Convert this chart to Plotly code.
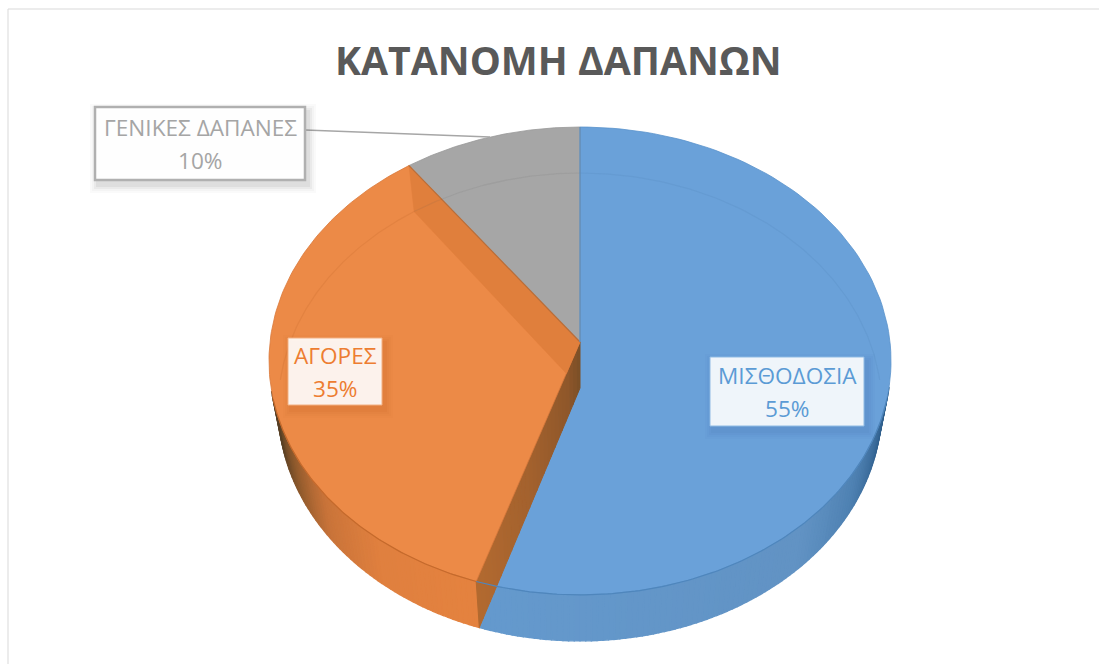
import math
import plotly.graph_objects as go

# ---- data -------------------------------------------------------------
title_text = "ΚΑΤΑΝΟΜΗ ΔΑΠΑΝΩΝ"
categories = ["ΜΙΣΘΟΔΟΣΙΑ", "ΑΓΟΡΕΣ", "ΓΕΝΙΚΕΣ ΔΑΠΑΝΕΣ"]
values = [55, 35, 10]
top_colors = ["#6aa1d9", "#ec8a47", "#a6a6a6"]
text_colors = ["#5b9bd5", "#ed7d31", "#a5a5a5"]

# ---- geometry of the tilted disc ---------------------------------------
W, H = 1099, 664
CX, CY = 580.0, 342.0
RX, SY, K = 310.0, 232.4, 0.081
DEPTH = 46.0


def pt(deg, level=0, radius=1.0):
    t = math.radians(deg)
    u, v = radius * math.sin(t), radius * math.cos(t)
    d = 1 + K * v
    sx = 1.0 - 0.03 * level
    return (CX + sx * RX * u / d, CY - SY * v / d + DEPTH * level)


def arc(a, b, level=0, n=120):
    return [pt(a + (b - a) * i / n, level) for i in range(n + 1)]


def hexrgb(c):
    return tuple(int(c[i:i + 2], 16) for i in (1, 3, 5))


def ramp(stops, x):
    for (x0, c0), (x1, c1) in zip(stops, stops[1:]):
        if x <= x1:
            f = max(0.0, (x - x0) / (x1 - x0))
            a, b = hexrgb(c0), hexrgb(c1)
            return "rgb(%d,%d,%d)" % tuple(a[i] + (b[i] - a[i]) * f for i in range(3))
    return stops[-1][1]


def mix(a, b, f):
    return (a[0] + (b[0] - a[0]) * f, a[1] + (b[1] - a[1]) * f)


fig = go.Figure()


def poly(points, fill, line=None, width=1.0, name=None):
    fig.add_trace(go.Scatter(
        x=[p[0] for p in points] + [points[0][0]],
        y=[p[1] for p in points] + [points[0][1]],
        mode="lines", fill="toself", fillcolor=fill,
        line=dict(color=line or fill, width=width),
        hoverinfo="skip" if name is None else "name", name=name or "",
        showlegend=False))


def path(points, color, width=1.0):
    fig.add_trace(go.Scatter(
        x=[p[0] for p in points], y=[p[1] for p in points], mode="lines",
        line=dict(color=color, width=width), hoverinfo="skip", showlegend=False))


# slice angles, clockwise from 12 o'clock, derived from the values
total = sum(values)
a_blue = 360.0 * values[0] / total
a_orange = a_blue + 360.0 * values[1] / total
a_gray = 360.0

blue_side = [(90, "#173f63"), (106, "#2f5f8d"), (122, "#4f82b3"), (138, "#6293c4"), (a_blue, "#659ace")]
orange_side = [(a_blue, "#e5833f"), (218, "#e0803f"), (232, "#c9743a"), (244, "#8f5a2d"), (254, "#5e4326"), (270, "#3f3422")]

# outer wall, in thin strips so that it shades along the rim
STEP = 1.0
deg = 101.0
while deg < 258.0:
    nxt = min(deg + STEP, 258.0)
    mid = (deg + nxt) / 2
    col = ramp(blue_side, mid) if mid < a_blue else ramp(orange_side, mid)
    poly([pt(deg), pt(nxt), pt(nxt, 1), pt(deg, 1)], col, width=1.4)
    deg = nxt

apex = (CX, CY)
apex_low = (CX, CY + DEPTH)

# top faces
poly([apex] + arc(0, a_blue), top_colors[0], line="#5b93cb", width=0.8, name=categories[0])

# cut wall between the orange and blue slices
N = 28
p0, p1 = pt(a_blue), pt(a_blue, 1)
wall = [(0, "#7a4f27"), (0.12, "#8f572a"), (0.5, "#a4622e"), (1, "#b36a30")]
for i in range(N):
    f0, f1 = i / N, (i + 1) / N
    poly([mix(apex, p0, f0), mix(apex, p0, f1), mix(apex_low, p1, f1), mix(apex_low, p1, f0)],
         ramp(wall, (f0 + f1) / 2), width=1.0)

poly([apex] + arc(a_blue, a_orange), top_colors[1], line="#d9793a", width=0.8, name=categories[1])
poly([apex] + arc(a_orange, a_gray), top_colors[2], line="#989898", width=0.8, name=categories[2])

# darker wall seen through the orange slice, clipped at the orange/blue edge
r0 = pt(a_orange, 0)
rl = pt(a_orange, 1)
d1 = (apex_low[0] - rl[0], apex_low[1] - rl[1])
d2 = (p0[0] - CX, p0[1] - CY)
den = d1[0] * d2[1] - d1[1] * d2[0]
t_hit = ((CX - rl[0]) * d2[1] - (CY - rl[1]) * d2[0]) / den
hit = (rl[0] + d1[0] * t_hit, rl[1] + d1[1] * t_hit)
poly([r0, rl, hit, apex], "#e07f3c", line="#e07f3c", width=0.5)
path([r0, apex], "#b96e3a", 1.2)

# faint back rim seen through the top face
path(arc(a_orange, 360, 1), "rgba(90,90,90,0.10)", 1.2)
path(arc(0, 88, 1), "rgba(40,80,130,0.07)", 1.2)
path(arc(272, a_orange, 1), "rgba(190,100,40,0.20)", 1.2)

# front rim
path(arc(a_blue, 104), "#4f86bc", 1.2)
path(arc(a_blue, 256), "#c56a2c", 1.2)

# separator at 12 o'clock
path([apex, pt(0)], "#5c8fc2", 1.2)

shapes = [
    dict(type="line", x0=8, y0=9, x1=W, y1=9, line=dict(color="#d9d9d9", width=1)),
    dict(type="line", x0=8, y0=9, x1=8, y1=H, line=dict(color="#d9d9d9", width=1)),
    dict(type="line", x0=305, y0=130, x1=490, y1=137, line=dict(color="#a6a6a6", width=1.6)),
]


def shadow(x0, y0, x1, y1, rgb):
    for grow, alpha in ((8, 0.03), (6, 0.04), (4, 0.06), (2, 0.08)):
        shapes.append(dict(type="rect", x0=x0 - grow + 3, y0=y0 - grow + 5, x1=x1 + grow + 3, y1=y1 + grow + 5,
                           line=dict(width=0), fillcolor="rgba(%d,%d,%d,%.2f)" % (*rgb, alpha)))


boxes = [(710, 357, 864, 426), (288, 338, 382, 405), (95, 107, 305, 180)]
box_fill = ["rgba(255,255,255,0.90)", "rgba(255,255,255,0.90)", "rgba(255,255,255,0.96)"]
box_line = ["#8fbbe4", "#f4b183", "#b0b0b0"]
box_width = [1, 1, 2.5]
box_shadow = [(60, 110, 170), (190, 90, 30), (90, 90, 90)]

annotations = [dict(text="<b>%s</b>" % title_text, x=558.5, y=59, xref="x", yref="y", showarrow=False,
                    font=dict(family="Open Sans", size=39.2, color="#595959"))]
for i, (x0, y0, x1, y1) in enumerate(boxes):
    shadow(x0, y0, x1, y1, box_shadow[i])
    shapes.append(dict(type="rect", x0=x0, y0=y0, x1=x1, y1=y1, fillcolor=box_fill[i],
                       line=dict(color=box_line[i], width=box_width[i])))
    ym = (y0 + y1) / 2
    lines = [categories[i], "%d%%" % round(100 * values[i] / total)]
    for line_text, dy in zip(lines, (-16.5, 16.5)):
        annotations.append(dict(
            text=line_text, x=(x0 + x1) / 2, y=ym + dy, xref="x", yref="y", showarrow=False,
            font=dict(family="Open Sans", size=22.6, color=text_colors[i]), align="center"))

fig.update_layout(
    width=W, height=H, margin=dict(l=0, r=0, t=0, b=0, pad=0),
    paper_bgcolor="white", plot_bgcolor="white", showlegend=False,
    xaxis=dict(range=[0, W], visible=False, fixedrange=True),
    yaxis=dict(range=[H, 0], visible=False, fixedrange=True),
    shapes=shapes, annotations=annotations)

fig.write_html("out.html", config={"displayModeBar": False},
               post_script="document.body.style.margin='0';document.body.style.overflow='hidden';")
